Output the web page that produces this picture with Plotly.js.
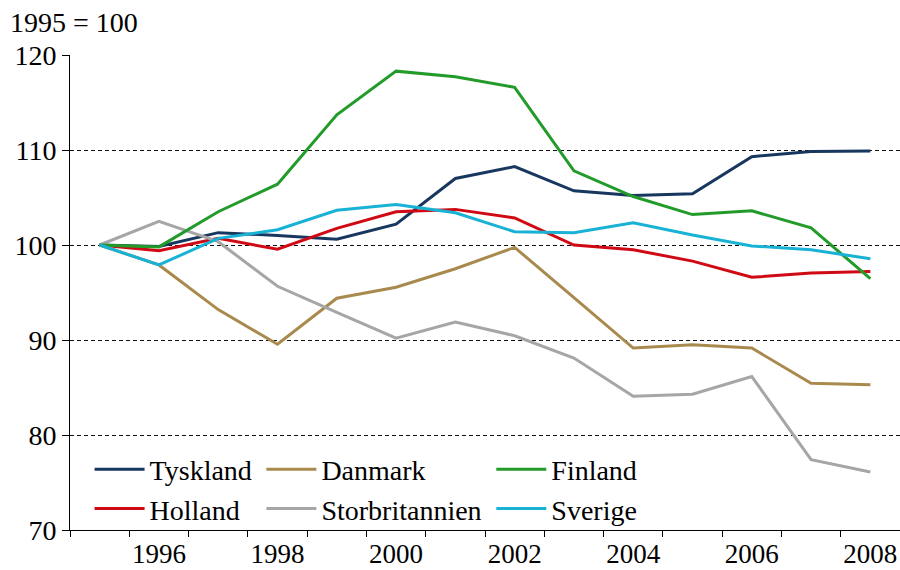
<!DOCTYPE html>
<html>
<head>
<meta charset="utf-8">
<script src="https://cdn.plot.ly/plotly-3.0.1.min.js"></script>
<style>html,body{margin:0;padding:0;background:#fff;}#chart{width:900px;height:570px;}</style>
</head>
<body>
<div id="chart"></div>
<script>
const years = [1995,1996,1997,1998,1999,2000,2001,2002,2003,2004,2005,2006,2007,2008];
const tyskland = [100,99.85,101.3,101.0,100.6,102.2,107.0,108.25,105.7,105.2,105.4,109.3,109.85,109.9];
const danmark = [100,97.9,93.2,89.55,94.4,95.55,97.5,99.75,94.45,89.15,89.5,89.15,85.45,85.3];
const finland = [100,99.8,103.5,106.4,113.7,118.3,117.7,116.6,107.8,105.1,103.2,103.6,101.8,96.45];
const holland = [100,99.4,100.7,99.55,101.75,103.5,103.75,102.85,100.0,99.5,98.3,96.6,97.05,97.2];
const storbritannien = [100,102.5,100.35,95.65,92.9,90.2,91.9,90.45,88.1,84.07,84.3,86.15,77.4,76.1];
const sverige = [100,97.9,100.7,101.6,103.65,104.25,103.4,101.4,101.3,102.35,101.05,99.9,99.5,98.55];
const xTickVals = [1996,1998,2000,2002,2004,2006,2008];
const xTickText = ['1996','1998','2000','2002','2004','2006','2008'];
const yTickVals = [70,80,90,100,110,120];

const FONT = '"Liberation Serif", "Times New Roman", Times, serif';
const FS = 28;
function tr(name, y, color, legend) {
  return {x: years, y: y, name: name, type: 'scatter', mode: 'lines',
    line: {color: color, width: 3}, legend: legend, legendgroup: name};
}
const data = [
  tr('Tyskland', tyskland, '#17375E', 'legend'),
  tr('Holland', holland, '#D00A14', 'legend'),
  tr('Danmark', danmark, '#A98A4E', 'legend2'),
  tr('Storbritannien', storbritannien, '#A6A6A6', 'legend2'),
  tr('Finland', finland, '#239B2A', 'legend3'),
  tr('Sverige', sverige, '#18B2D4', 'legend3')
];
function leg(x) {
  return {x: x, xanchor: 'left', y: 0.18, yanchor: 'top', orientation: 'v',
    font: {family: FONT, size: FS, color: '#000'}, bgcolor: 'rgba(0,0,0,0)',
    tracegroupgap: 0, itemwidth: 50, traceorder: 'normal'};
}
const layout = {
  width: 900, height: 570,
  margin: {l: 70, r: 0, t: 55, b: 40},
  paper_bgcolor: '#fff', plot_bgcolor: '#fff',
  font: {family: FONT, size: FS, color: '#000'},
  title: {text: '1995 = 100', x: 0.011, xanchor: 'left', xref: 'container',
    y: 1 - 22/570, yanchor: 'middle', yref: 'container',
    font: {family: FONT, size: FS, color: '#000'}},
  xaxis: {range: [1994.5, 2008.5], tickvals: xTickVals, ticktext: xTickText,
    ticks: '', showgrid: false, zeroline: false, showline: true,
    linecolor: '#000', linewidth: 1, tickfont: {family: FONT, size: 27, color: '#000'},
    minor: {tick0: 1994.5, dtick: 1, ticks: 'outside', ticklen: 6, tickcolor: '#000', tickwidth: 1, showgrid: false},
    fixedrange: true},
  yaxis: {range: [70, 120], tickvals: yTickVals, ticks: 'outside', ticklen: 7,
    tickcolor: '#000', showgrid: true, gridcolor: '#111', griddash: '4px,3px', gridwidth: 1,
    zeroline: false, showline: true, linecolor: '#000', linewidth: 1,
    tickfont: {family: FONT, size: FS, color: '#000'}, fixedrange: true},
  legend: leg(0.0236),
  legend2: leg(0.2306),
  legend3: leg(0.5076),
  showlegend: true
};
Plotly.newPlot('chart', data, layout, {displayModeBar: false, staticPlot: true});
</script>
</body>
</html>
